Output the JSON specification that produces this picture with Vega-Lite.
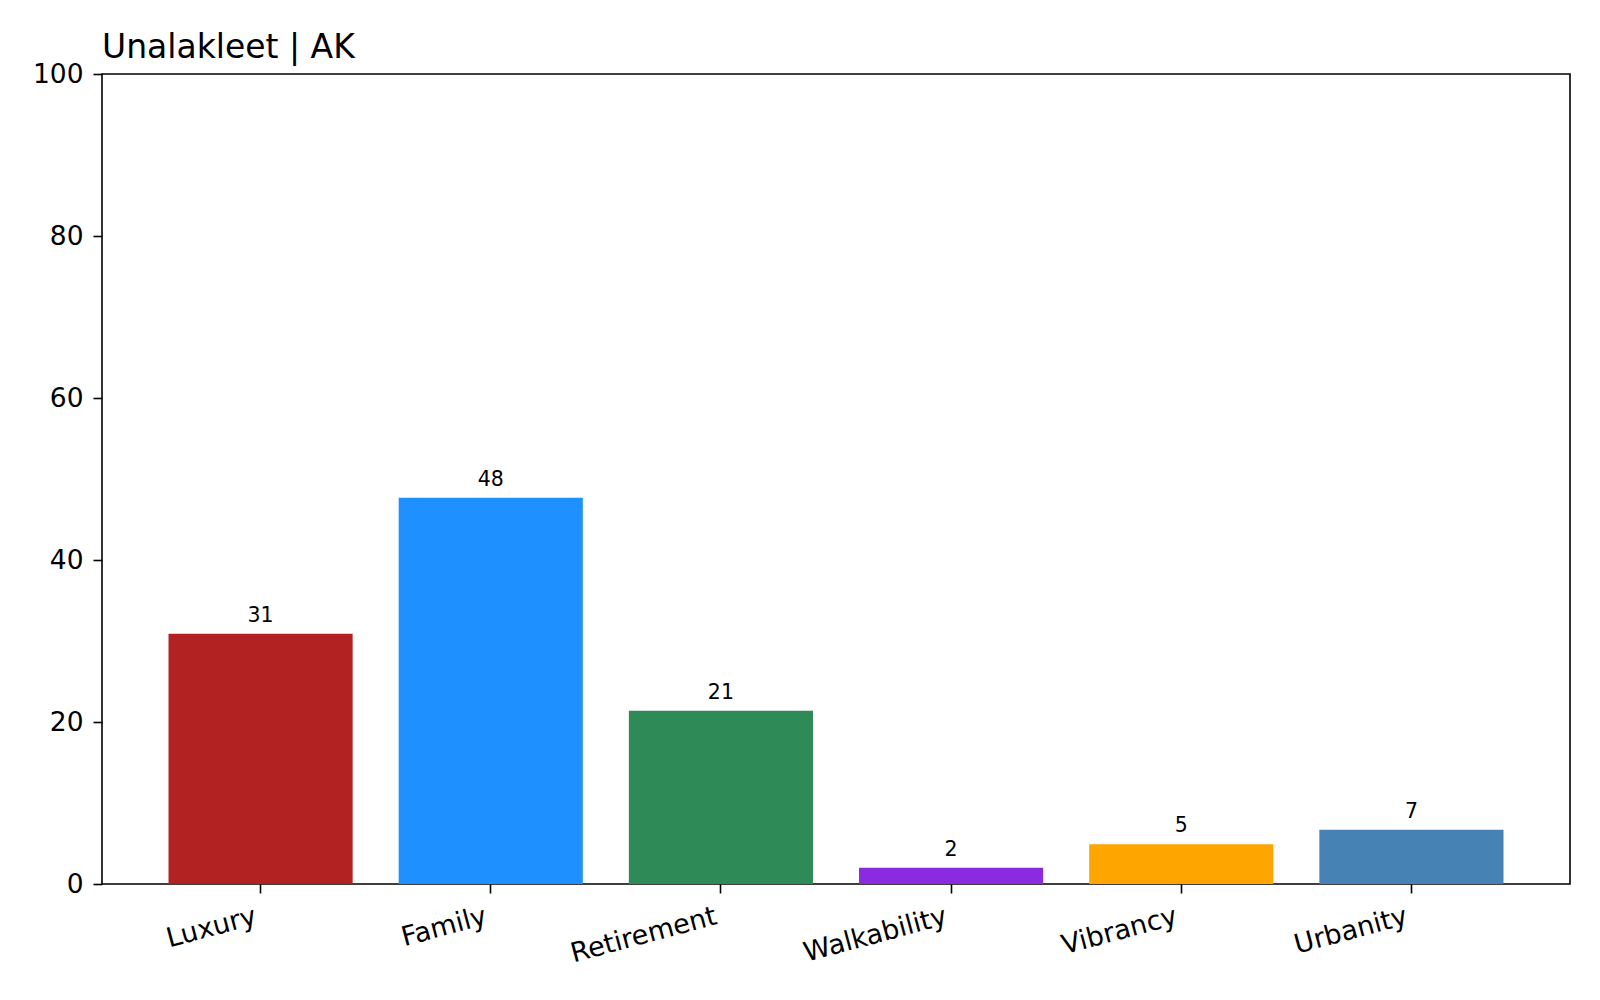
{
  "$schema": "https://vega.github.io/schema/vega-lite/v6.json",
  "autosize": "none",
  "padding": {"left": 102, "top": 74, "right": 30, "bottom": 116},
  "width": 1468,
  "height": 810,
  "background": "white",
  "title": {
    "text": "Unalakleet | AK",
    "anchor": "start",
    "frame": "group",
    "baseline": "alphabetic",
    "offset": -30,
    "font": "DejaVu Sans",
    "fontSize": 33,
    "fontWeight": "normal",
    "color": "#000000"
  },
  "data": {
    "values": [
      {"category": "Luxury", "score": 30.9, "color": "#B22222"},
      {"category": "Family", "score": 47.7, "color": "#1E90FF"},
      {"category": "Retirement", "score": 21.4, "color": "#2E8B57"},
      {"category": "Walkability", "score": 2.0, "color": "#8A2BE2"},
      {"category": "Vibrancy", "score": 4.9, "color": "#FFA500"},
      {"category": "Urbanity", "score": 6.7, "color": "#4682B4"}
    ]
  },
  "encoding": {
    "x": {
      "field": "category",
      "type": "nominal",
      "sort": null,
      "title": null,
      "scale": {"paddingInner": 0.2, "paddingOuter": 0.289},
      "axis": {
        "labelAngle": -15,
        "labelAlign": "right",
        "labelBaseline": "top",
        "labelPadding": 10,
        "labelOffset": -8,
        "labelFontSize": 27,
        "tickSize": 9,
        "domain": false
      }
    },
    "y": {
      "field": "score",
      "type": "quantitative",
      "title": null,
      "scale": {"domain": [0, 100], "nice": false, "zero": true},
      "axis": {
        "values": [0, 20, 40, 60, 80, 100],
        "labelFontSize": 26.5,
        "labelPadding": 10,
        "tickSize": 9,
        "grid": false,
        "domain": false
      }
    }
  },
  "layer": [
    {
      "mark": {"type": "bar"},
      "encoding": {
        "color": {"field": "color", "type": "nominal", "scale": null, "legend": null}
      }
    },
    {
      "mark": {
        "type": "text",
        "baseline": "alphabetic",
        "align": "center",
        "dy": -12,
        "font": "DejaVu Sans",
        "fontSize": 20.5,
        "color": "#000000"
      },
      "encoding": {
        "text": {"field": "score", "type": "quantitative", "format": ".0f"}
      }
    }
  ],
  "config": {
    "font": "DejaVu Sans",
    "view": {"stroke": "#000000", "strokeWidth": 1.6},
    "axis": {
      "labelFont": "DejaVu Sans",
      "labelColor": "#000000",
      "tickColor": "#000000",
      "tickWidth": 1.6
    }
  }
}
